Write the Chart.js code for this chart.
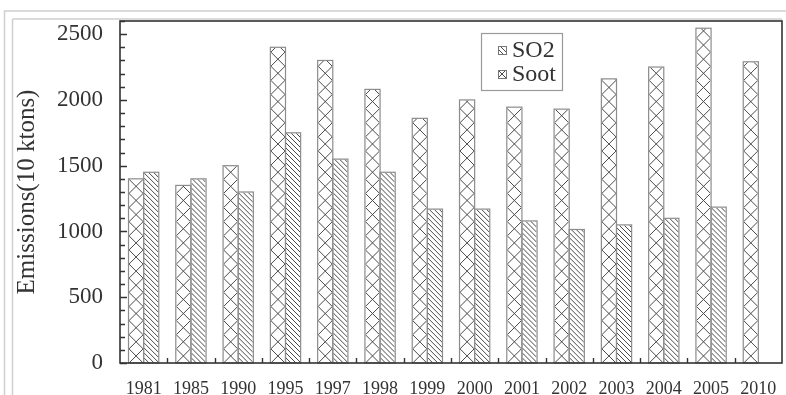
<!DOCTYPE html>
<html>
<head>
<meta charset="utf-8">
<script src="https://cdn.jsdelivr.net/npm/chart.js@4/dist/chart.umd.min.js"></script>
<style>
  html, body { margin: 0; padding: 0; background: #fff; }
  #wrap { width: 786px; height: 395px; position: relative; }
</style>
</head>
<body>
<div id="wrap"><canvas id="c" width="786" height="395"></canvas></div>
<script>
// Emission totals by year, in units of 10 ktons
const years = ['1981','1985','1990','1995','1997','1998','1999','2000','2001','2002','2003','2004','2005','2010'];
const so2Values  = [1400, 1350, 1500, 2400, 2300, 2080, 1860, 2000, 1945, 1930, 2160, 2250, 2545, 2290];
const sootValues = [1450, 1400, 1300, 1750, 1550, 1450, 1170, 1170, 1080, 1015, 1050, 1100, 1185, null];
const seriesNames = ['SO2', 'Soot'];
const yTicks = [0, 500, 1000, 1500, 2000, 2500];
const yMinorStep = 100;
const yMax = 2600;

const SERIF = '"Liberation Serif", "DejaVu Serif", serif';
const INK = '#333';

// Hatch fills: cross-hatch for SO2, single diagonal for Soot
function drawCross(ctx, l, t, r, b) {
  const w = r - l;
  ctx.beginPath();
  for (let y0 = b; y0 > t - w; y0 -= w) {
    ctx.moveTo(l, y0); ctx.lineTo(r, y0 - w);
    ctx.moveTo(l, y0 - w); ctx.lineTo(r, y0);
  }
  ctx.stroke();
}
function drawDiag(ctx, l, t, r, b, step) {
  const w = r - l;
  ctx.beginPath();
  for (let y0 = b; y0 > t - w - step; y0 -= step) {
    ctx.moveTo(l, y0); ctx.lineTo(r, y0 + w);
  }
  ctx.stroke();
}
function fillHatch(ctx, idx, l, t, r, b) {
  ctx.save();
  ctx.beginPath();
  ctx.rect(l, t, r - l, b - t);
  ctx.clip();
  ctx.strokeStyle = '#4a4a4a';
  ctx.lineWidth = 1;
  if (idx === 0) drawCross(ctx, l, t, r, b);
  else drawDiag(ctx, l, t, r, b, 5);
  ctx.restore();
}

const framePlugin = {
  id: 'frame',
  beforeDraw(chart) {
    const ctx = chart.ctx;
    ctx.save();
    ctx.strokeStyle = '#cfcfcf';
    ctx.lineWidth = 1.5;
    ctx.beginPath();
    ctx.moveTo(4, 11); ctx.lineTo(786, 11);
    ctx.moveTo(4.5, 11); ctx.lineTo(4.5, 395);
    ctx.moveTo(12.5, 19); ctx.lineTo(782, 19);
    ctx.moveTo(12.5, 19); ctx.lineTo(12.5, 395);
    ctx.stroke();
    ctx.restore();
  },
  afterDatasetsDraw(chart) {
    const ctx = chart.ctx;
    const area = chart.chartArea;
    // hatch inside every bar
    chart.data.datasets.forEach((ds, i) => {
      const meta = chart.getDatasetMeta(i);
      meta.data.forEach((el, j) => {
        if (ds.data[j] == null) return;
        const p = el.getProps(['x', 'y', 'width', 'base'], true);
        const l = p.x - p.width / 2, r = p.x + p.width / 2;
        fillHatch(ctx, i, l + 0.5, p.y + 0.5, r - 0.5, p.base);
        ctx.save();
        ctx.strokeStyle = '#8c8c8c';
        ctx.lineWidth = 1.2;
        ctx.strokeRect(l, p.y, r - l, p.base - p.y);
        ctx.restore();
      });
    });

    // plot box
    ctx.save();
    ctx.strokeStyle = INK;
    ctx.lineWidth = 1.6;
    ctx.strokeRect(area.left, area.top, area.right - area.left, area.bottom - area.top);

    // inward ticks on the value axis
    const ys = chart.scales.y;
    const major = yTicks[1] - yTicks[0];
    ctx.lineWidth = 1.4;
    ctx.beginPath();
    for (let v = 0; v <= ys.max; v += yMinorStep) {
      const py = Math.round(ys.getPixelForValue(v)) + 0.5;
      const len = (v % major === 0) ? 7 : 5;
      ctx.moveTo(area.left, py); ctx.lineTo(area.left + len, py);
    }
    // small upward ticks between year groups
    const xs = chart.scales.x;
    for (let k = 1; k < years.length; k++) {
      const px = Math.round((xs.getPixelForValue(k - 1) + xs.getPixelForValue(k)) / 2) + 0.5;
      ctx.moveTo(px, area.bottom); ctx.lineTo(px, area.bottom - 5);
    }
    ctx.stroke();

    // legend box
    const lx = 481, ly = 33, lw = 81, lh = 57;
    ctx.strokeStyle = '#9a9a9a';
    ctx.lineWidth = 1.2;
    ctx.strokeRect(lx + 0.5, ly + 0.5, lw, lh);
    ctx.font = '24px ' + SERIF;
    ctx.textBaseline = 'middle';
    ctx.textAlign = 'left';
    chart.data.datasets.forEach((ds, i) => {
      const cy = ly + 17 + i * 24;
      const bx = 498, bs = 8;
      ctx.fillStyle = '#fff';
      ctx.fillRect(bx, cy - bs / 2, bs, bs);
      fillHatch(ctx, i === 0 ? 1 : 0, bx, cy - bs / 2, bx + bs, cy + bs / 2);
      ctx.strokeStyle = '#777';
      ctx.lineWidth = 1;
      ctx.strokeRect(bx + 0.5, cy - bs / 2 + 0.5, bs, bs);
      ctx.fillStyle = INK;
      ctx.fillText(ds.label, 512, cy + 1);
    });
    ctx.restore();
  }
};

new Chart(document.getElementById('c'), {
  type: 'bar',
  data: {
    labels: years,
    datasets: [
      { label: seriesNames[0], data: so2Values, backgroundColor: '#fff', borderWidth: 0 },
      { label: seriesNames[1], data: sootValues, backgroundColor: '#fff', borderWidth: 0 }
    ]
  },
  options: {
    responsive: false,
    animation: false,
    devicePixelRatio: 1,
    layout: { padding: { left: 0, top: 21, right: 4, bottom: 0 } },
    datasets: { bar: { categoryPercentage: 0.64, barPercentage: 1.0 } },
    plugins: { legend: { display: false }, tooltip: { enabled: false } },
    scales: {
      x: {
        grid: { display: false, drawTicks: false },
        border: { display: false },
        ticks: { color: INK, font: { family: SERIF, size: 18 }, padding: 15, maxRotation: 0, autoSkip: false },
        afterFit(s) { s.height = 32; s.paddingLeft = 0; s.paddingRight = 0; }
      },
      y: {
        min: 0,
        max: yMax,
        grid: { display: false, drawTicks: false },
        border: { display: false },
        afterBuildTicks(s) { s.ticks = yTicks.map(v => ({ value: v })); },
        ticks: {
          autoSkip: false,
          color: INK,
          font: { family: SERIF, size: 23 },
          padding: 17,
          callback: (v) => String(v)
        },
        title: { display: true, text: 'Emissions(10 ktons)', color: INK, font: { family: SERIF, size: 25 }, padding: { top: 12, bottom: 0 } },
        afterFit(s) { s.width = 120; s.paddingTop = 0; s.paddingBottom = 0; }
      }
    }
  },
  plugins: [framePlugin]
});
</script>
</body>
</html>
